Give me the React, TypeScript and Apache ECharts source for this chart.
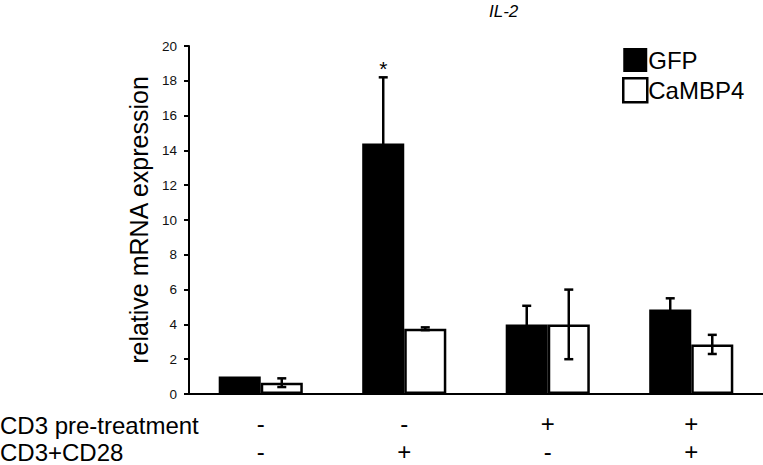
import React, { useEffect, useRef } from "react";
import * as echarts from "echarts";

const categories = ["g1", "g2", "g3", "g4"];
const cd3PreTreatment = ["-", "-", "+", "+"];
const cd3cd28 = ["-", "+", "-", "+"];
const gfpValues = [1.0, 14.4, 4.0, 4.85];
const gfpErrors = [0, 3.8, 1.07, 0.65];
const cambpValues = [0.65, 3.75, 4.0, 2.85];
const cambpErrors = [0.25, 0.08, 2.0, 0.55];
const significance = ["", "*", "", ""];
const yTicks = { min: 0, max: 20, interval: 2 };

const FONT = "Liberation Sans, Arial, sans-serif";
const BAR_FRAC = 0.293;

export default function App() {
  const ref = useRef<HTMLDivElement>(null);
  useEffect(() => {
    if (!ref.current) return;
    document.body.style.margin = "0";
    const chart = echarts.init(ref.current, null, { renderer: "svg" });
    const errData: any[] = [];
    categories.forEach((_, i) => {
      errData.push([i, gfpValues[i], gfpErrors[i], 0, significance[i]]);
      errData.push([i, cambpValues[i], cambpErrors[i], 1, ""]);
    });
    chart.setOption({
      animation: false,
      backgroundColor: "#ffffff",
      textStyle: { fontFamily: FONT },
      title: {
        text: "IL-2",
        left: 489,
        top: 3,
        padding: 0,
        textStyle: { fontFamily: FONT, fontSize: 17, fontStyle: "italic", fontWeight: "normal", color: "#000" },
      },
      legend: {
        orient: "vertical",
        left: 622,
        top: 48,
        padding: 0,
        itemWidth: 24,
        itemHeight: 24,
        itemGap: 5,
        icon: "rect",
        textStyle: { fontFamily: FONT, fontSize: 24, color: "#000", padding: [0, 0, 0, -4] },
        data: [
          { name: "GFP", itemStyle: { color: "#000", borderColor: "#000", borderWidth: 0 } },
          { name: "CaMBP4", itemStyle: { color: "#fff", borderColor: "#000", borderWidth: 2.5 } },
        ],
      },
      grid: { left: 189, right: 0, top: 46, bottom: 69, containLabel: false },
      xAxis: {
        type: "category",
        data: categories,
        axisLine: { show: true, lineStyle: { color: "#000", width: 2 } },
        axisTick: { show: false },
        axisLabel: {
          margin: 15,
          fontFamily: FONT,
          fontSize: 24,
          lineHeight: 28,
          color: "#000",
          formatter: (_v: string, i: number) => `${cd3PreTreatment[i]}\n${cd3cd28[i]}`,
        },
      },
      yAxis: {
        type: "value",
        min: yTicks.min,
        max: yTicks.max,
        interval: yTicks.interval,
        name: "relative mRNA expression",
        nameLocation: "middle",
        nameGap: 21,
        nameTextStyle: { fontFamily: FONT, fontSize: 25, color: "#000" },
        axisLine: { show: true, lineStyle: { color: "#000", width: 2 } },
        axisTick: { show: true, length: 5, lineStyle: { color: "#000", width: 2 } },
        splitLine: { show: false },
        axisLabel: { fontFamily: FONT, fontSize: 13.5, color: "#111", margin: 12 },
      },
      graphic: [
        {
          type: "text",
          left: 0,
          top: 413,
          style: { text: "CD3 pre-treatment", font: `24px ${FONT}`, fill: "#000" },
        },
        {
          type: "text",
          left: 0,
          top: 440,
          style: { text: "CD3+CD28", font: `24px ${FONT}`, fill: "#000" },
        },
      ],
      series: [
        {
          name: "GFP",
          type: "bar",
          data: gfpValues,
          barWidth: `${BAR_FRAC * 100}%`,
          barGap: "0%",
          itemStyle: { color: "#000", borderColor: "#000", borderWidth: 0 },
        },
        {
          name: "CaMBP4",
          type: "bar",
          data: cambpValues,
          barWidth: `${BAR_FRAC * 100}%`,
          barGap: "0%",
          itemStyle: { color: "#fff", borderColor: "#000", borderWidth: 2.5 },
        },
        {
          name: "errors",
          type: "custom",
          data: errData,
          encode: { x: 0, y: 1 },
          z: 10,
          renderItem: (params: any, api: any) => {
            const idx = api.value(0);
            const val = api.value(1);
            const err = api.value(2);
            const side = api.value(3);
            const sig = errData[params.dataIndex][4];
            const band = api.size([1, 0])[0];
            const barW = band * BAR_FRAC;
            const base = api.coord([idx, val]);
            const x = base[0] + (side === 0 ? -0.5 : 0.5) * barW;
            const children: any[] = [];
            if (err > 0) {
              const top = api.coord([idx, val + err])[1];
              const bot = api.coord([idx, val - err])[1];
              const cap = 4.5;
              const ls = { stroke: "#000", lineWidth: 2.5 };
              children.push({ type: "line", shape: { x1: x, y1: top, x2: x, y2: bot }, style: ls });
              children.push({ type: "line", shape: { x1: x - cap, y1: top, x2: x + cap, y2: top }, style: ls });
              children.push({ type: "line", shape: { x1: x - cap, y1: bot, x2: x + cap, y2: bot }, style: ls });
              if (sig) {
                children.push({
                  type: "text",
                  style: { text: sig, x, y: top + 2, font: `21px ${FONT}`, fill: "#000", align: "center", verticalAlign: "bottom" },
                });
              }
            }
            return { type: "group", children };
          },
        },
      ],
    });
    return () => chart.dispose();
  }, []);
  return <div ref={ref} style={{ width: 763, height: 465 }} />;
}
